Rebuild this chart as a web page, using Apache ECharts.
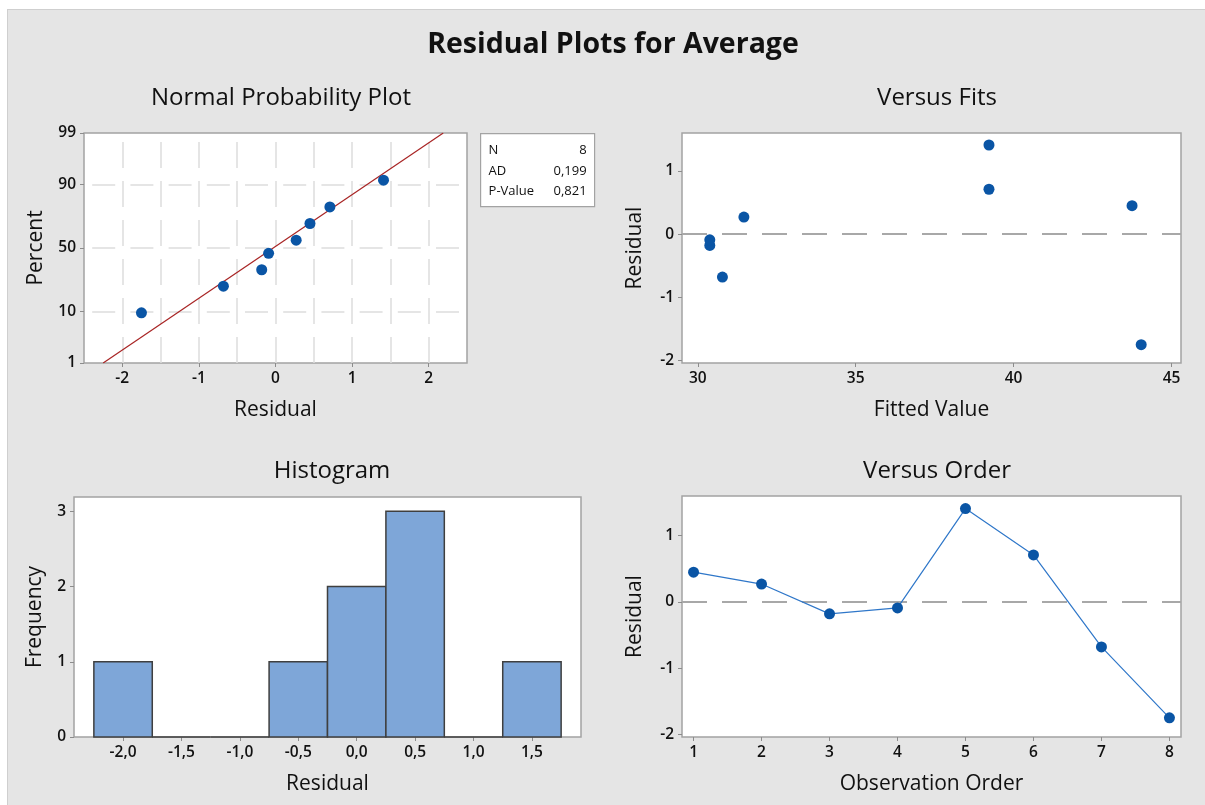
<!DOCTYPE html>
<html><head><meta charset="utf-8">
<script src="https://cdn.jsdelivr.net/npm/echarts@6/dist/echarts.min.js"></script>
<style>
html,body{margin:0;padding:0;background:#fff;}
#bg{position:absolute;left:7px;top:9px;right:0;bottom:0;background:#e5e5e5;border-left:1px solid #cfcfcf;border-top:1px solid #cfcfcf;}
#c{position:absolute;left:0;top:0;width:1205px;height:805px;}
</style>
</head><body><div id="bg"></div><div id="c"></div>
<script>
// ---------- data ----------
const observationOrder = [1, 2, 3, 4, 5, 6, 7, 8];
const fittedValues = [43.75, 31.46, 30.38, 30.38, 39.22, 39.22, 30.78, 44.04];
const residuals = [0.45, 0.27, -0.18, -0.09, 1.41, 0.71, -0.68, -1.75];
const probPercents = [9.5, 22, 33, 45.7, 56.3, 69, 79.7, 91.5];
const fitLineResidual = [-2.25, 2.19];
const fitLinePercent = [1, 99];
const probTicks = [1, 10, 50, 90, 99];
const probGridPercents = [10, 50, 90];
const nppGridResiduals = [-2, -1.5, -1, -0.5, 0, 0.5, 1, 1.5, 2];
const nppTicks = [-2, -1, 0, 1, 2];
const histBinCenters = [-2.0, -1.5, -1.0, -0.5, 0.0, 0.5, 1.0, 1.5];
const histCounts = [1, 0, 0, 1, 2, 3, 0, 1];
const histBinWidth = 0.5;
const histYTicks = [0, 1, 2, 3];
const fitsXTicks = [30, 35, 40, 45];
const residTicks = [-2, -1, 0, 1];
const statLabels = ['N', 'AD', 'P-Value'];
const statValues = ['8', '0,199', '0,821'];

// inverse standard normal CDF (Acklam) - used as the probability-axis transform
function normInv(p) {
  const a = [-3.969683028665376e+01, 2.209460984245205e+02, -2.759285104469687e+02, 1.383577518672690e+02, -3.066479806614716e+01, 2.506628277459239e+00];
  const b = [-5.447609879822406e+01, 1.615858368580409e+02, -1.556989798598866e+02, 6.680131188771972e+01, -1.328068155288572e+01];
  const c = [-7.784894002430293e-03, -3.223964580411365e-01, -2.400758277161838e+00, -2.549732539343734e+00, 4.374664141464968e+00, 2.938163982698783e+00];
  const d = [7.784695709041462e-03, 3.224671290700398e-01, 2.445134137142996e+00, 3.754408661907416e+00];
  const pl = 0.02425, ph = 1 - pl;
  let q, r;
  if (p < pl) { q = Math.sqrt(-2 * Math.log(p)); return (((((c[0]*q+c[1])*q+c[2])*q+c[3])*q+c[4])*q+c[5]) / ((((d[0]*q+d[1])*q+d[2])*q+d[3])*q+1); }
  if (p <= ph) { q = p - 0.5; r = q*q; return (((((a[0]*r+a[1])*r+a[2])*r+a[3])*r+a[4])*r+a[5])*q / (((((b[0]*r+b[1])*r+b[2])*r+b[3])*r+b[4])*r+1); }
  q = Math.sqrt(-2 * Math.log(1 - p)); return -(((((c[0]*q+c[1])*q+c[2])*q+c[3])*q+c[4])*q+c[5]) / ((((d[0]*q+d[1])*q+d[2])*q+d[3])*q+1);
}
const zOf = p => normInv(p / 100);

const FONT = '"Open Sans", "Noto Sans", sans-serif';
const TXT = '#111111';
const DOT = '#0a55a5';
const sortedResiduals = residuals.slice().sort((x, y) => x - y);

const chart = echarts.init(document.getElementById('c'), null, {renderer: 'canvas'});

function axisBase(extra) {
  return Object.assign({
    type: 'value',
    axisLine: {show: false, onZero: false},
    splitLine: {show: false},
    axisTick: {show: true, inside: false, length: 4, lineStyle: {color: '#8c8c8c', width: 1}},
    axisLabel: {color: TXT, fontSize: 15.5, fontWeight: 600, fontFamily: FONT, margin: 8},
    nameLocation: 'middle',
    nameTextStyle: {color: TXT, fontSize: 21, fontFamily: FONT},
  }, extra);
}
function withCustom(base, vals, fmt) {
  base.axisTick = Object.assign({}, base.axisTick, {customValues: vals});
  base.axisLabel = Object.assign({}, base.axisLabel, {customValues: vals});
  if (fmt) base.axisLabel.formatter = fmt;
  return base;
}

const gridStyle = {show: true, backgroundColor: '#ffffff', borderColor: '#a3a3a3', borderWidth: 1.5, containLabel: false};

const zTicks = probTicks.map(zOf);
const pctFormatter = v => {
  let bi = 0, bd = Infinity;
  zTicks.forEach((z, i) => { const dd = Math.abs(z - v); if (dd < bd) { bd = dd; bi = i; } });
  return String(probTicks[bi]);
};
const commaFmt = v => v.toFixed(1).replace('.', ',');
const subTitle = {fontSize: 24, fontWeight: 'normal', color: TXT, fontFamily: FONT};
const zeroLine = {silent: true, symbol: 'none', label: {show: false}, animation: false, z: 1,
  lineStyle: {color: '#a8a8a8', width: 1.8, type: [25, 15]}, data: [{yAxis: 0}]};

const option = {
  animation: false,
  title: [
    {text: 'Residual Plots for Average', left: 608, top: 25, textAlign: 'center',
     textStyle: {fontSize: 28.5, fontWeight: 'bold', color: TXT, fontFamily: FONT}},
    {text: 'Normal Probability Plot', left: 276, top: 81, textAlign: 'center', textStyle: subTitle},
    {text: 'Versus Fits', left: 932, top: 81, textAlign: 'center', textStyle: subTitle},
    {text: 'Histogram', left: 327, top: 454, textAlign: 'center', textStyle: subTitle},
    {text: 'Versus Order', left: 932, top: 454, textAlign: 'center', textStyle: subTitle}
  ],
  grid: [
    Object.assign({left: 84, top: 133, width: 383, height: 230}, gridStyle),
    Object.assign({left: 682, top: 133, width: 499, height: 230}, gridStyle),
    Object.assign({left: 74, top: 497, width: 507, height: 240}, gridStyle),
    Object.assign({left: 682, top: 496, width: 499, height: 241}, gridStyle)
  ],
  xAxis: [
    withCustom(axisBase({gridIndex: 0, min: -2.5, max: 2.5, name: 'Residual', nameGap: 37}), nppTicks),
    withCustom(axisBase({gridIndex: 1, min: 29.5, max: 45.3, name: 'Fitted Value', nameGap: 37}), fitsXTicks),
    withCustom(axisBase({gridIndex: 2, min: -2.42, max: 1.92, name: 'Residual', nameGap: 37}), histBinCenters, commaFmt),
    withCustom(axisBase({gridIndex: 3, min: 0.83, max: 8.17, name: 'Observation Order', nameGap: 37}), observationOrder)
  ],
  yAxis: [
    withCustom(axisBase({gridIndex: 0, min: zOf(probTicks[0]), max: zOf(probTicks[probTicks.length - 1]), name: 'Percent', nameGap: 37.5}), zTicks, pctFormatter),
    withCustom(axisBase({gridIndex: 1, min: -2.04, max: 1.6, name: 'Residual', nameGap: 36.5}), residTicks),
    withCustom(axisBase({gridIndex: 2, min: 0, max: 3.19, name: 'Frequency', nameGap: 28.5}), histYTicks),
    withCustom(axisBase({gridIndex: 3, min: -2.04, max: 1.6, name: 'Residual', nameGap: 36.5}), residTicks)
  ],
  series: [
    // probability plot grid
    {type: 'line', xAxisIndex: 0, yAxisIndex: 0, data: [], z: 1, silent: true,
     markLine: {silent: true, symbol: 'none', label: {show: false}, animation: false, z: 1,
       data: nppGridResiduals.map(v => ({xAxis: v, lineStyle: {color: '#dddddd', width: 1.5, type: [26, 13]}}))
         .concat(probGridPercents.map(p => ({yAxis: zOf(p), lineStyle: {color: '#dddddd', width: 1.5, type: [23, 15.2], dashOffset: 30}})))}},
    // fitted normal line
    {type: 'line', xAxisIndex: 0, yAxisIndex: 0, z: 2, symbol: 'none', silent: true,
     lineStyle: {color: '#a82424', width: 1.2},
     data: fitLineResidual.map((r, i) => [r, zOf(fitLinePercent[i])])},
    // probability points
    {type: 'scatter', xAxisIndex: 0, yAxisIndex: 0, z: 3, symbol: 'circle', symbolSize: 11,
     itemStyle: {color: DOT, opacity: 1},
     data: sortedResiduals.map((r, i) => [r, zOf(probPercents[i])])},
    // versus fits
    {type: 'scatter', xAxisIndex: 1, yAxisIndex: 1, z: 3, symbol: 'circle', symbolSize: 11,
     itemStyle: {color: DOT, opacity: 1},
     data: fittedValues.map((f, i) => [f, residuals[i]]),
     markLine: zeroLine},
    // histogram
    {type: 'custom', xAxisIndex: 2, yAxisIndex: 2, z: 2,
     data: histBinCenters.map((c, i) => [c, histCounts[i]]),
     renderItem: function (params, api) {
       const c = api.value(0), n = api.value(1);
       const p0 = api.coord([c - histBinWidth / 2, n]);
       const p1 = api.coord([c + histBinWidth / 2, 0]);
       return {type: 'rect', shape: {x: p0[0], y: p0[1], width: p1[0] - p0[0], height: p1[1] - p0[1]},
               style: {fill: '#7ea6d8', stroke: '#3f3f3f', lineWidth: 1.5}};
     }},
    // versus order
    {type: 'line', xAxisIndex: 3, yAxisIndex: 3, z: 3, symbol: 'circle', symbolSize: 11,
     lineStyle: {color: '#2f77c9', width: 1.2}, itemStyle: {color: DOT, opacity: 1},
     data: observationOrder.map((o, i) => [o, residuals[i]]),
     markLine: zeroLine}
  ],
  graphic: [
    {type: 'group', left: 480, top: 133, children: [
      {type: 'rect', shape: {x: 0, y: 0, width: 114, height: 73}, style: {fill: '#ffffff', stroke: '#a3a3a3', lineWidth: 1.2}},
    ].concat(statLabels.map((t, i) => ({type: 'text', x: 8, y: 17 + i * 20.5,
        style: {text: t, fill: TXT, font: '13px ' + FONT, textVerticalAlign: 'middle', textAlign: 'left'}})))
     .concat(statValues.map((t, i) => ({type: 'text', x: 106, y: 17 + i * 20.5,
        style: {text: t, fill: TXT, font: '13px ' + FONT, textVerticalAlign: 'middle', textAlign: 'right'}})))
    }
  ]
};
chart.setOption(option);
</script>
</body></html>
